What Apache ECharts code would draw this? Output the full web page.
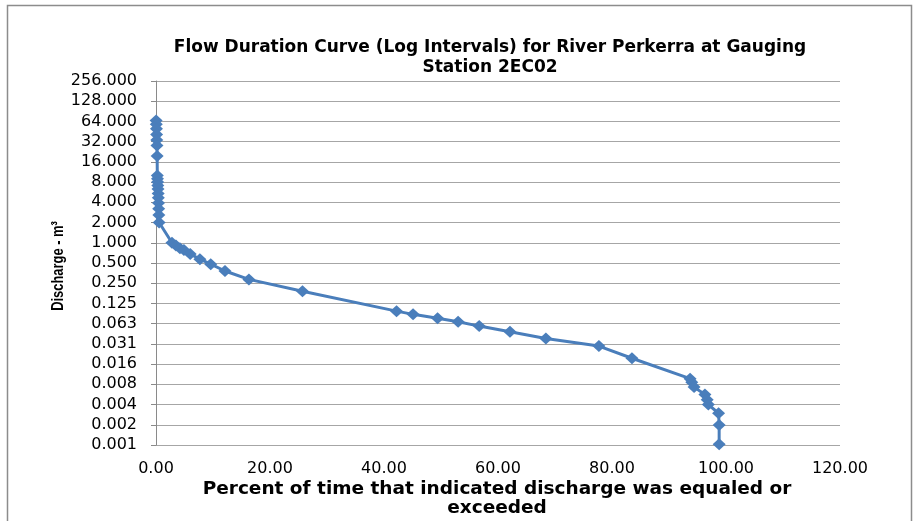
<!DOCTYPE html>
<html>
<head>
<meta charset="utf-8">
<script src="https://cdn.jsdelivr.net/npm/echarts@6/dist/echarts.min.js"></script>
<style>
  html, body { margin: 0; padding: 0; background: #ffffff; }
  #chart { width: 918px; height: 521px; }
</style>
</head>
<body>
<div id="chart"></div>
<script>
// Percent of time each discharge was equaled or exceeded
const exceedPercent = [
  0.02, 0.05, 0.08, 0.11, 0.14, 0.17, 0.20,
  0.23, 0.26, 0.29, 0.32, 0.35, 0.38, 0.41, 0.44, 0.47, 0.50, 0.55,
  2.8, 3.5, 4.2, 4.9, 6.0, 7.7, 9.6, 12.1, 16.3, 25.7,
  42.2, 45.1, 49.4, 53.0, 56.7, 62.1, 68.4, 77.7, 83.5,
  93.7, 94.0, 94.4, 96.3, 96.7, 96.9, 98.7, 98.8, 98.8
];

// Discharge (m³) at each exceedance level
const discharge = [
  66, 58, 50, 41, 34, 28, 19.5,
  10.0, 9.0, 8.0, 7.1, 6.3, 5.4, 4.7, 3.9, 3.2, 2.6, 2.0,
  1.0, 0.91, 0.83, 0.78, 0.68, 0.57, 0.48, 0.38, 0.285, 0.19,
  0.096, 0.086, 0.075, 0.0666, 0.0575, 0.0473, 0.0377, 0.029, 0.0191,
  0.0095, 0.0084, 0.0071, 0.0055, 0.0046, 0.0039, 0.0029, 0.00194, 0.001
];

// Axis range: powers of two from 2^-10 up to 2^8
const yMin = Math.pow(2, -10);
const yMax = Math.pow(2, 8);
const xMin = 0, xMax = 120, xStep = 20;

const chartTitle = 'Flow Duration Curve (Log Intervals) for River Perkerra at Gauging\nStation 2EC02';
const xTitle = 'Percent of time that indicated discharge was equaled or\nexceeded';
const yTitle = 'Discharge - m³';

const points = exceedPercent.map((x, i) => [x, discharge[i]]);

const chart = echarts.init(document.getElementById('chart'), null, { renderer: 'canvas' });

chart.setOption({
  backgroundColor: '#ffffff',
  animation: false,
  graphic: [
    {
      type: 'rect',
      shape: { x: 7.5, y: 5.5, width: 904, height: 530 },
      style: { fill: 'none', stroke: '#8c8c8c', lineWidth: 1.5 },
      silent: true
    },
    {
      type: 'text',
      x: 490,
      y: 38,
      style: {
        text: chartTitle,
        fontFamily: 'DejaVu Sans',
        fontWeight: 'bold',
        fontSize: 17,
        lineHeight: 20,
        fill: '#000000',
        align: 'center',
        verticalAlign: 'top'
      }
    },
    {
      type: 'text',
      x: 497,
      y: 480,
      style: {
        text: xTitle,
        fontFamily: 'DejaVu Sans',
        fontWeight: 'bold',
        fontSize: 18.5,
        lineHeight: 19,
        fill: '#000000',
        align: 'center',
        verticalAlign: 'top'
      }
    },
    {
      // vertical axis title, condensed along its reading direction
      type: 'text',
      x: 58,
      y: 266,
      rotation: Math.PI / 2,
      scaleX: 0.76,
      style: {
        text: yTitle,
        fontFamily: 'Liberation Sans',
        fontWeight: 'bold',
        fontSize: 17,
        fill: '#000000',
        align: 'center',
        verticalAlign: 'middle'
      }
    }
  ],
  grid: {
    left: 156,
    right: 78,
    top: 81,
    bottom: 76,
    containLabel: false
  },
  xAxis: {
    type: 'value',
    min: xMin,
    max: xMax,
    interval: xStep,
    axisLine: { show: false },
    axisTick: { show: false },
    splitLine: { show: false },
    axisLabel: {
      margin: 16,
      fontFamily: 'DejaVu Sans',
      fontSize: 16,
      color: '#000000',
      formatter: v => v.toFixed(2)
    }
  },
  yAxis: {
    type: 'log',
    logBase: 2,
    min: yMin,
    max: yMax,
    interval: 1,
    axisLine: { show: true, lineStyle: { color: '#8a8a8a', width: 1 } },
    axisTick: { show: true, inside: false, length: 5, lineStyle: { color: '#8a8a8a' } },
    splitLine: { show: true, lineStyle: { color: '#a6a6a6', width: 1 } },
    minorTick: { show: false },
    axisLabel: {
      margin: 19,
      fontFamily: 'DejaVu Sans',
      fontSize: 16,
      color: '#000000',
      formatter: v => v.toFixed(3)
    }
  },
  series: [
    {
      type: 'line',
      data: points,
      symbol: 'diamond',
      symbolSize: [13, 12],
      showAllSymbol: true,
      lineStyle: { color: '#4a7ebb', width: 3 },
      itemStyle: { color: '#4a7ebb', borderWidth: 0 }
    }
  ]
});
</script>
</body>
</html>
